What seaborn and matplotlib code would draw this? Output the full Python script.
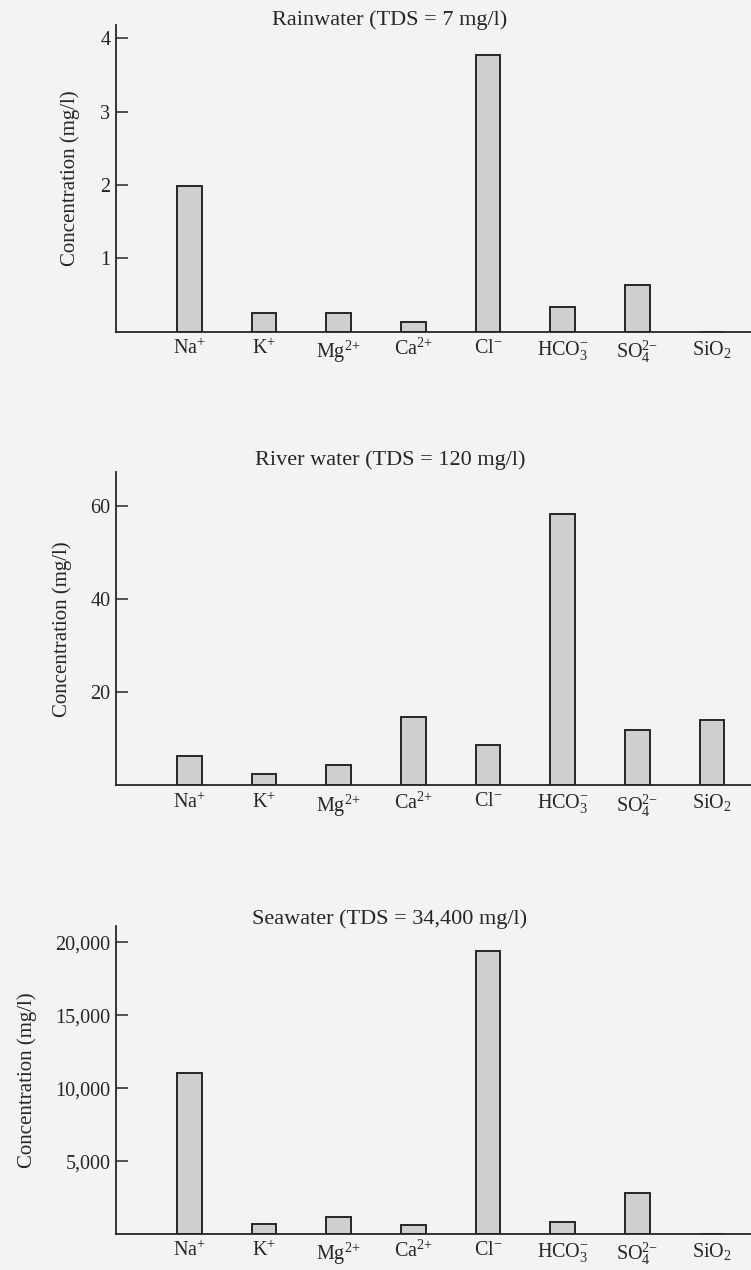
import matplotlib
matplotlib.use("Agg")
import matplotlib.pyplot as plt
from matplotlib.ticker import StrMethodFormatter
import pandas as pd
import seaborn as sns

# Ion labels (same order in all three panels)
ions = [r"Na$^{+}$", r"K$^{+}$", r"Mg$^{2{+}}$", r"Ca$^{2{+}}$", r"Cl$^{-}$",
        r"HCO$_3^{-}$", r"SO$_4^{2{-}}$", r"SiO$_2$"]

# Concentrations in mg/l
rain_conc = [1.98, 0.26, 0.25, 0.13, 3.77, 0.34, 0.64, 0.0]
river_conc = [6.3, 2.5, 4.3, 14.7, 8.7, 58.2, 11.9, 14.0]
sea_conc = [11070, 710, 1140, 640, 19400, 800, 2810, 0]

titles = ["Rainwater (TDS = 7 mg/l)",
          "River water (TDS = 120 mg/l)",
          "Seawater (TDS = 34,400 mg/l)"]
rain_ticks = [1, 2, 3, 4]
river_ticks = [20, 40, 60]
sea_ticks = [5000, 10000, 15000, 20000]

sns.set_theme(style="white")
plt.rcParams["font.family"] = ["Liberation Serif", "DejaVu Serif"]
plt.rcParams["mathtext.fontset"] = "custom"
plt.rcParams["mathtext.rm"] = "Liberation Serif"
plt.rcParams["mathtext.it"] = "Liberation Serif:italic"
plt.rcParams["mathtext.default"] = "rm"

paper = "#f3f3f1"
ink = "#262626"

fig = plt.figure(figsize=(7.51, 12.70), dpi=100, facecolor=paper)

# (values, ticks, bottom, height, ymax, title y, ylabel x, tick format)
panels = [
    (rain_conc, rain_ticks, 0.7388, 0.2415, 4.18, 1.016, -0.057, "{x:.0f}"),
    (river_conc, river_ticks, 0.3815, 0.2469, 67.2, 1.038, -0.069, "{x:.0f}"),
    (sea_conc, sea_ticks, 0.02835, 0.2425, 21130, 1.023, -0.124, "{x:,.0f}"),
]

for (vals, ticks, bottom, height, ymax, ty, lx, fmt), title in zip(panels, titles):
    ax = fig.add_axes([0.1545, bottom, 0.8455, height])
    ax.set_facecolor(paper)
    df = pd.DataFrame({"ion": ions, "conc": vals})
    sns.barplot(data=df, x="ion", y="conc", ax=ax, color="#cfcfcf",
                saturation=1, width=0.33, edgecolor=ink, linewidth=1.4)
    ax.set_xlim(-0.98, 7.52)
    ax.set_ylim(0, ymax)
    ax.set_yticks(ticks)
    ax.yaxis.set_major_formatter(StrMethodFormatter(fmt))
    ax.set_xlabel("")
    ax.set_ylabel("Concentration (mg/l)", fontsize=15, color=ink)
    ax.yaxis.set_label_coords(lx, 0.5)
    ax.tick_params(axis="y", direction="in", length=8.5, width=1.1,
                   color=ink, labelcolor=ink, labelsize=14.5, pad=4, left=True)
    ax.tick_params(axis="x", length=0, labelcolor=ink, labelsize=14.5, pad=5)
    for side in ["top", "right"]:
        ax.spines[side].set_visible(False)
    for side in ["left", "bottom"]:
        ax.spines[side].set_color(ink)
        ax.spines[side].set_linewidth(1.3)
    ax.text(0.4315, ty, title, transform=ax.transAxes, ha="center",
            va="center", fontsize=16, color=ink)

fig.savefig("out.png", dpi=100, facecolor=paper)
